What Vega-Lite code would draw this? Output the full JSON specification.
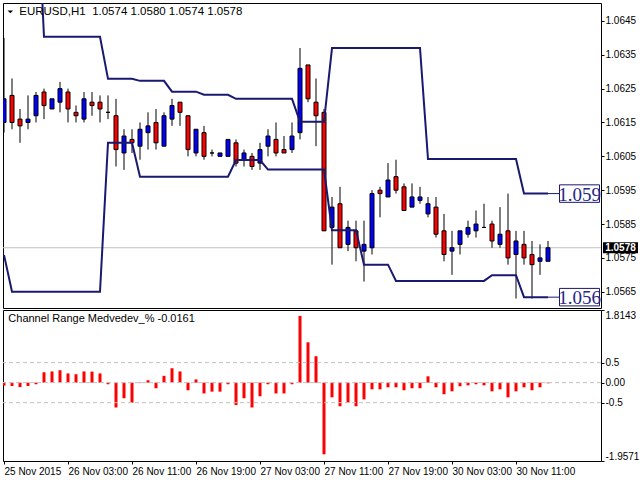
{
  "$schema": "https://vega.github.io/schema/vega-lite/v6.json",
  "background": "white",
  "padding": {"left": 2, "top": 2, "right": 0, "bottom": 0},
  "spacing": 0,
  "config": {
    "view": {"stroke": "black", "strokeWidth": 1},
    "axis": {"labelFont": "Liberation Sans", "labelFontSize": 10, "labelColor": "black", "tickColor": "black", "grid": false, "domain": false}
  },
  "datasets": {
    "bars": [
      {"i":0,"o":1.0615,"h":1.0640,"l":1.0612,"c":1.0622,"up":1.0690,"lo":1.05759,"v":-0.075},
      {"i":1,"o":1.0623,"h":1.0628,"l":1.0613,"c":1.0615,"up":1.0690,"lo":1.0565,"v":-0.083},
      {"i":2,"o":1.0616,"h":1.0619,"l":1.0609,"c":1.0614,"up":1.0690,"lo":1.0565,"v":-0.11},
      {"i":3,"o":1.0615,"h":1.0623,"l":1.0613,"c":1.0616,"up":1.0690,"lo":1.0565,"v":-0.083},
      {"i":4,"o":1.0617,"h":1.0624,"l":1.0615,"c":1.0623,"up":1.0690,"lo":1.0565,"v":-0.04},
      {"i":5,"o":1.0624,"h":1.0625,"l":1.0616,"c":1.0620,"up":1.06403,"lo":1.0565,"v":0.26},
      {"i":6,"o":1.0619,"h":1.0622,"l":1.0619,"c":1.0622,"up":1.06403,"lo":1.0565,"v":0.28},
      {"i":7,"o":1.0621,"h":1.0627,"l":1.0618,"c":1.0625,"up":1.06403,"lo":1.0565,"v":0.31},
      {"i":8,"o":1.0624,"h":1.0625,"l":1.0615,"c":1.0619,"up":1.06403,"lo":1.0565,"v":0.23},
      {"i":9,"o":1.0618,"h":1.0620,"l":1.0615,"c":1.0617,"up":1.06403,"lo":1.0565,"v":0.21},
      {"i":10,"o":1.0616,"h":1.0624,"l":1.0615,"c":1.0622,"up":1.06403,"lo":1.0565,"v":0.28},
      {"i":11,"o":1.0621,"h":1.0624,"l":1.0617,"c":1.0620,"up":1.06403,"lo":1.0565,"v":0.275},
      {"i":12,"o":1.0621,"h":1.0623,"l":1.0615,"c":1.0619,"up":1.06403,"lo":1.0565,"v":0.23},
      {"i":13,"o":1.0618,"h":1.0623,"l":1.0616,"c":1.0618,"up":1.06279,"lo":1.0609,"v":-0.04},
      {"i":14,"o":1.0617,"h":1.0622,"l":1.0602,"c":1.0607,"up":1.06279,"lo":1.0609,"v":-0.62},
      {"i":15,"o":1.0606,"h":1.0613,"l":1.0601,"c":1.0611,"up":1.06279,"lo":1.0609,"v":-0.39},
      {"i":16,"o":1.0610,"h":1.0613,"l":1.0606,"c":1.0609,"up":1.06279,"lo":1.0609,"v":-0.5},
      {"i":17,"o":1.0608,"h":1.0615,"l":1.0604,"c":1.0613,"up":1.06273,"lo":1.0599,"v":0.01},
      {"i":18,"o":1.0612,"h":1.0618,"l":1.0607,"c":1.0614,"up":1.06273,"lo":1.0599,"v":0.06},
      {"i":19,"o":1.0615,"h":1.0619,"l":1.0607,"c":1.0609,"up":1.06273,"lo":1.0599,"v":-0.14},
      {"i":20,"o":1.0608,"h":1.0618,"l":1.0608,"c":1.0617,"up":1.06273,"lo":1.0599,"v":0.17},
      {"i":21,"o":1.0616,"h":1.0622,"l":1.0614,"c":1.0620,"up":1.06241,"lo":1.0599,"v":0.36},
      {"i":22,"o":1.0621,"h":1.0621,"l":1.0614,"c":1.0618,"up":1.06241,"lo":1.0599,"v":0.28},
      {"i":23,"o":1.0617,"h":1.0617,"l":1.0605,"c":1.0607,"up":1.06241,"lo":1.0599,"v":-0.19},
      {"i":24,"o":1.0606,"h":1.0613,"l":1.0605,"c":1.0613,"up":1.06241,"lo":1.0599,"v":0.08},
      {"i":25,"o":1.0612,"h":1.0614,"l":1.0604,"c":1.0605,"up":1.06232,"lo":1.0599,"v":-0.27},
      {"i":26,"o":1.0606,"h":1.0607,"l":1.0605,"c":1.0606,"up":1.06232,"lo":1.0599,"v":-0.225},
      {"i":27,"o":1.0605,"h":1.0606,"l":1.0605,"c":1.0606,"up":1.06232,"lo":1.0599,"v":-0.225},
      {"i":28,"o":1.0605,"h":1.0610,"l":1.0605,"c":1.0610,"up":1.06232,"lo":1.0599,"v":-0.04},
      {"i":29,"o":1.0609,"h":1.0610,"l":1.0602,"c":1.0603,"up":1.0622,"lo":1.06039,"v":-0.56},
      {"i":30,"o":1.0604,"h":1.0607,"l":1.0602,"c":1.0606,"up":1.0622,"lo":1.06039,"v":-0.39},
      {"i":31,"o":1.0605,"h":1.0606,"l":1.0601,"c":1.0602,"up":1.0622,"lo":1.06039,"v":-0.62},
      {"i":32,"o":1.0603,"h":1.0609,"l":1.0601,"c":1.0607,"up":1.0622,"lo":1.06039,"v":-0.34},
      {"i":33,"o":1.0608,"h":1.0613,"l":1.0605,"c":1.0611,"up":1.0622,"lo":1.06011,"v":-0.04},
      {"i":34,"o":1.0610,"h":1.0615,"l":1.0605,"c":1.0606,"up":1.0622,"lo":1.06011,"v":-0.27},
      {"i":35,"o":1.0607,"h":1.0611,"l":1.0606,"c":1.0606,"up":1.0622,"lo":1.06011,"v":-0.27},
      {"i":36,"o":1.0607,"h":1.0615,"l":1.0606,"c":1.0611,"up":1.0622,"lo":1.06011,"v":-0.04},
      {"i":37,"o":1.0612,"h":1.0637,"l":1.0610,"c":1.0631,"up":1.06152,"lo":1.06011,"v":1.667},
      {"i":38,"o":1.0632,"h":1.0632,"l":1.0621,"c":1.0622,"up":1.06152,"lo":1.06011,"v":1.008},
      {"i":39,"o":1.0621,"h":1.0628,"l":1.0608,"c":1.0617,"up":1.06152,"lo":1.06011,"v":0.66},
      {"i":40,"o":1.0618,"h":1.0619,"l":1.0583,"c":1.0583,"up":1.06152,"lo":1.06011,"v":-1.79},
      {"i":41,"o":1.0584,"h":1.0593,"l":1.0573,"c":1.0590,"up":1.0637,"lo":1.05832,"v":-0.367},
      {"i":42,"o":1.0591,"h":1.0596,"l":1.0578,"c":1.0578,"up":1.0637,"lo":1.05832,"v":-0.59},
      {"i":43,"o":1.0579,"h":1.0586,"l":1.0577,"c":1.0584,"up":1.0637,"lo":1.05832,"v":-0.5},
      {"i":44,"o":1.0583,"h":1.0586,"l":1.0574,"c":1.0578,"up":1.0637,"lo":1.05832,"v":-0.59},
      {"i":45,"o":1.0577,"h":1.0586,"l":1.0568,"c":1.0579,"up":1.0637,"lo":1.0573,"v":-0.417},
      {"i":46,"o":1.0578,"h":1.0595,"l":1.0576,"c":1.0594,"up":1.0637,"lo":1.0573,"v":-0.167},
      {"i":47,"o":1.0595,"h":1.0596,"l":1.0587,"c":1.0594,"up":1.0637,"lo":1.0573,"v":-0.167},
      {"i":48,"o":1.0593,"h":1.0603,"l":1.0593,"c":1.0598,"up":1.0637,"lo":1.0573,"v":-0.117},
      {"i":49,"o":1.0599,"h":1.0604,"l":1.0594,"c":1.0595,"up":1.0637,"lo":1.05682,"v":-0.117},
      {"i":50,"o":1.0596,"h":1.0597,"l":1.0589,"c":1.0589,"up":1.0637,"lo":1.05682,"v":-0.19},
      {"i":51,"o":1.0590,"h":1.0597,"l":1.0590,"c":1.0593,"up":1.0637,"lo":1.05682,"v":-0.14},
      {"i":52,"o":1.0592,"h":1.0596,"l":1.0591,"c":1.0593,"up":1.0637,"lo":1.05682,"v":-0.14},
      {"i":53,"o":1.0588,"h":1.0593,"l":1.0587,"c":1.0591,"up":1.06042,"lo":1.05682,"v":0.158},
      {"i":54,"o":1.0590,"h":1.0593,"l":1.0581,"c":1.0582,"up":1.06042,"lo":1.05682,"v":-0.117},
      {"i":55,"o":1.0583,"h":1.0588,"l":1.0574,"c":1.0576,"up":1.06042,"lo":1.05682,"v":-0.29},
      {"i":56,"o":1.0577,"h":1.0583,"l":1.0570,"c":1.0578,"up":1.06042,"lo":1.05682,"v":-0.217},
      {"i":57,"o":1.0579,"h":1.0583,"l":1.0576,"c":1.0583,"up":1.06042,"lo":1.05682,"v":-0.09},
      {"i":58,"o":1.0582,"h":1.0586,"l":1.0581,"c":1.0584,"up":1.06042,"lo":1.05682,"v":-0.067},
      {"i":59,"o":1.0583,"h":1.0589,"l":1.0581,"c":1.0585,"up":1.06042,"lo":1.05682,"v":-0.04},
      {"i":60,"o":1.0584,"h":1.0591,"l":1.0584,"c":1.0584,"up":1.06042,"lo":1.05682,"v":-0.067},
      {"i":61,"o":1.0585,"h":1.0586,"l":1.0578,"c":1.0580,"up":1.06042,"lo":1.05699,"v":-0.217},
      {"i":62,"o":1.0579,"h":1.0590,"l":1.0578,"c":1.0582,"up":1.06042,"lo":1.05699,"v":-0.167},
      {"i":63,"o":1.0583,"h":1.0594,"l":1.0573,"c":1.0575,"up":1.06042,"lo":1.05699,"v":-0.367},
      {"i":64,"o":1.0576,"h":1.0583,"l":1.0563,"c":1.0580,"up":1.06042,"lo":1.05699,"v":-0.217},
      {"i":65,"o":1.0579,"h":1.0583,"l":1.0573,"c":1.0575,"up":1.0594,"lo":1.05634,"v":-0.117},
      {"i":66,"o":1.0576,"h":1.0580,"l":1.0563,"c":1.0573,"up":1.0594,"lo":1.05634,"v":-0.19},
      {"i":67,"o":1.0574,"h":1.0579,"l":1.0570,"c":1.0575,"up":1.0594,"lo":1.05634,"v":-0.117},
      {"i":68,"o":1.0574,"h":1.0580,"l":1.0574,"c":1.0578,"up":1.0594,"lo":1.05634,"v":-0.0161}
    ],
    "chan": [
      {"p": 1.0594, "t": "1.059"},
      {"p": 1.05634, "t": "1.056"}
    ],
    "levels": [{"lvl": 0.5}, {"lvl": 0}, {"lvl": -0.5}],
    "one": [{}]
  },
  "vconcat": [
    {
      "width": 598,
      "height": 305,
      "layer": [
        {
          "data": {"name": "one"},
          "mark": {"type": "rule", "color": "#c0c0c0", "strokeWidth": 1},
          "encoding": {
            "y": {"datum": 1.0578, "type": "quantitative", "scale": {"domain": [1.05602, 1.06503], "nice": false, "zero": false, "padding": 0},
                  "axis": {"orient": "right", "title": null, "values": [1.0565, 1.0575, 1.0585, 1.0595, 1.0605, 1.0615, 1.0625, 1.0635, 1.0645], "format": ".4f", "tickSize": 3, "labelPadding": 1}}
          }
        },
        {
          "data": {"name": "bars"},
          "mark": {"type": "rule", "color": "black", "strokeWidth": 1, "clip": true},
          "encoding": {
            "x": {"field": "i", "type": "quantitative", "scale": {"domain": [-0.125, 74.625], "nice": false, "zero": false, "padding": 0}, "axis": null},
            "y": {"field": "l", "type": "quantitative", "scale": {"domain": [1.05602, 1.06503], "nice": false, "zero": false, "padding": 0},
                  "axis": {"orient": "right", "title": null, "values": [1.0565, 1.0575, 1.0585, 1.0595, 1.0605, 1.0615, 1.0625, 1.0635, 1.0645], "format": ".4f", "tickSize": 3, "labelPadding": 1}},
            "y2": {"field": "h"}
          }
        },
        {
          "data": {"name": "bars"},
          "mark": {"type": "bar", "size": 4, "stroke": "black", "strokeWidth": 1, "clip": true, "orient": "vertical"},
          "encoding": {
            "x": {"field": "i", "type": "quantitative", "scale": {"domain": [-0.125, 74.625], "nice": false, "zero": false, "padding": 0}, "axis": null},
            "y": {"field": "o", "type": "quantitative", "scale": {"domain": [1.05602, 1.06503], "nice": false, "zero": false, "padding": 0},
                  "axis": {"orient": "right", "title": null, "values": [1.0565, 1.0575, 1.0585, 1.0595, 1.0605, 1.0615, 1.0625, 1.0635, 1.0645], "format": ".4f", "tickSize": 3, "labelPadding": 1}},
            "y2": {"field": "c"},
            "fill": {"condition": {"test": "datum.c >= datum.o", "value": "#0000ff"}, "value": "#ff0000"}
          }
        },
        {
          "data": {"name": "bars"},
          "mark": {"type": "line", "color": "#191970", "strokeWidth": 2, "clip": true},
          "encoding": {
            "x": {"field": "i", "type": "quantitative", "scale": {"domain": [-0.125, 74.625], "nice": false, "zero": false, "padding": 0}, "axis": null},
            "y": {"field": "up", "type": "quantitative", "scale": {"domain": [1.05602, 1.06503], "nice": false, "zero": false, "padding": 0},
                  "axis": {"orient": "right", "title": null, "values": [1.0565, 1.0575, 1.0585, 1.0595, 1.0605, 1.0615, 1.0625, 1.0635, 1.0645], "format": ".4f", "tickSize": 3, "labelPadding": 1}}
          }
        },
        {
          "data": {"name": "bars"},
          "mark": {"type": "line", "color": "#191970", "strokeWidth": 2, "clip": true},
          "encoding": {
            "x": {"field": "i", "type": "quantitative", "scale": {"domain": [-0.125, 74.625], "nice": false, "zero": false, "padding": 0}, "axis": null},
            "y": {"field": "lo", "type": "quantitative", "scale": {"domain": [1.05602, 1.06503], "nice": false, "zero": false, "padding": 0},
                  "axis": {"orient": "right", "title": null, "values": [1.0565, 1.0575, 1.0585, 1.0595, 1.0605, 1.0615, 1.0625, 1.0635, 1.0645], "format": ".4f", "tickSize": 3, "labelPadding": 1}}
          }
        },
        {
          "data": {"name": "chan"},
          "mark": {"type": "rule", "color": "#191970", "strokeWidth": 1},
          "encoding": {
            "x": {"datum": 68, "type": "quantitative", "scale": {"domain": [-0.125, 74.625], "nice": false, "zero": false, "padding": 0}, "axis": null},
            "x2": {"datum": 69.45},
            "y": {"field": "p", "type": "quantitative", "scale": {"domain": [1.05602, 1.06503], "nice": false, "zero": false, "padding": 0},
                  "axis": {"orient": "right", "title": null, "values": [1.0565, 1.0575, 1.0585, 1.0595, 1.0605, 1.0615, 1.0625, 1.0635, 1.0645], "format": ".4f", "tickSize": 3, "labelPadding": 1}}
          }
        },
        {
          "data": {"name": "chan"},
          "mark": {"type": "point", "shape": "M-1,-0.4375L1,-0.4375L1,0.4375L-1,0.4375Z", "size": 1600, "filled": true, "fill": "white", "stroke": "#191970", "strokeWidth": 1, "opacity": 1},
          "encoding": {
            "x": {"datum": 71.94, "type": "quantitative", "scale": {"domain": [-0.125, 74.625], "nice": false, "zero": false, "padding": 0}, "axis": null},
            "y": {"field": "p", "type": "quantitative", "scale": {"domain": [1.05602, 1.06503], "nice": false, "zero": false, "padding": 0},
                  "axis": {"orient": "right", "title": null, "values": [1.0565, 1.0575, 1.0585, 1.0595, 1.0605, 1.0615, 1.0625, 1.0635, 1.0645], "format": ".4f", "tickSize": 3, "labelPadding": 1}}
          }
        },
        {
          "data": {"name": "chan"},
          "mark": {"type": "text", "font": "Liberation Serif", "fontSize": 19, "color": "#27278a", "align": "center", "baseline": "middle", "dy": 1},
          "encoding": {
            "x": {"datum": 71.94, "type": "quantitative", "scale": {"domain": [-0.125, 74.625], "nice": false, "zero": false, "padding": 0}, "axis": null},
            "y": {"field": "p", "type": "quantitative", "scale": {"domain": [1.05602, 1.06503], "nice": false, "zero": false, "padding": 0},
                  "axis": {"orient": "right", "title": null, "values": [1.0565, 1.0575, 1.0585, 1.0595, 1.0605, 1.0615, 1.0625, 1.0635, 1.0645], "format": ".4f", "tickSize": 3, "labelPadding": 1}},
            "text": {"field": "t"}
          }
        },
        {
          "data": {"name": "one"},
          "mark": {"type": "point", "shape": "M-1,-0.314L1,-0.314L1,0.314L-1,0.314Z", "size": 1225, "filled": true, "fill": "black", "opacity": 1},
          "encoding": {
            "x": {"datum": 77.06, "type": "quantitative", "scale": {"domain": [-0.125, 74.625], "nice": false, "zero": false, "padding": 0}, "axis": null},
            "y": {"datum": 1.0578, "type": "quantitative", "scale": {"domain": [1.05602, 1.06503], "nice": false, "zero": false, "padding": 0},
                  "axis": {"orient": "right", "title": null, "values": [1.0565, 1.0575, 1.0585, 1.0595, 1.0605, 1.0615, 1.0625, 1.0635, 1.0645], "format": ".4f", "tickSize": 3, "labelPadding": 1}}
          }
        },
        {
          "data": {"name": "one"},
          "mark": {"type": "text", "font": "Liberation Sans", "fontSize": 10, "fontWeight": "bold", "color": "white", "align": "center", "baseline": "middle"},
          "encoding": {
            "x": {"datum": 77.06, "type": "quantitative", "scale": {"domain": [-0.125, 74.625], "nice": false, "zero": false, "padding": 0}, "axis": null},
            "y": {"datum": 1.0578, "type": "quantitative", "scale": {"domain": [1.05602, 1.06503], "nice": false, "zero": false, "padding": 0},
                  "axis": {"orient": "right", "title": null, "values": [1.0565, 1.0575, 1.0585, 1.0595, 1.0605, 1.0615, 1.0625, 1.0635, 1.0645], "format": ".4f", "tickSize": 3, "labelPadding": 1}},
            "text": {"value": "1.0578"}
          }
        },
        {
          "data": {"name": "one"},
          "mark": {"type": "point", "shape": "M-1,-0.5L1,-0.5L0,0.5Z", "size": 30, "filled": true, "fill": "black", "opacity": 1},
          "encoding": {
            "x": {"datum": 0.79, "type": "quantitative", "scale": {"domain": [-0.125, 74.625], "nice": false, "zero": false, "padding": 0}, "axis": null},
            "y": {"datum": 1.06477, "type": "quantitative", "scale": {"domain": [1.05602, 1.06503], "nice": false, "zero": false, "padding": 0},
                  "axis": {"orient": "right", "title": null, "values": [1.0565, 1.0575, 1.0585, 1.0595, 1.0605, 1.0615, 1.0625, 1.0635, 1.0645], "format": ".4f", "tickSize": 3, "labelPadding": 1}}
          }
        },
        {
          "data": {"name": "one"},
          "mark": {"type": "text", "font": "Arial", "fontSize": 11.5, "color": "black", "align": "left", "baseline": "middle"},
          "encoding": {
            "x": {"datum": 1.91, "type": "quantitative", "scale": {"domain": [-0.125, 74.625], "nice": false, "zero": false, "padding": 0}, "axis": null},
            "y": {"datum": 1.06477, "type": "quantitative", "scale": {"domain": [1.05602, 1.06503], "nice": false, "zero": false, "padding": 0},
                  "axis": {"orient": "right", "title": null, "values": [1.0565, 1.0575, 1.0585, 1.0595, 1.0605, 1.0615, 1.0625, 1.0635, 1.0645], "format": ".4f", "tickSize": 3, "labelPadding": 1}},
            "text": {"value": "EURUSD,H1\u00a0 1.0574 1.0580 1.0574 1.0578"}
          }
        }
      ]
    },
    {
      "width": 598,
      "height": 151,
      "layer": [
        {
          "data": {"name": "bars"},
          "mark": {"type": "bar", "size": 3, "color": "#ff0000", "clip": true, "orient": "vertical"},
          "encoding": {
            "x": {"field": "i", "type": "quantitative", "scale": {"domain": [-0.125, 74.625], "nice": false, "zero": false, "padding": 0},
                  "axis": {"orient": "bottom", "title": null, "values": [0, 8, 16, 24, 32, 40, 48, 56, 64], "labelAlign": "left", "tickSize": 3, "labelPadding": 2,
                           "labelExpr": "['25 Nov 2015','26 Nov 03:00','26 Nov 11:00','26 Nov 19:00','27 Nov 03:00','27 Nov 11:00','27 Nov 19:00','30 Nov 03:00','30 Nov 11:00'][round(datum.value / 8)]"}},
            "y": {"field": "v", "type": "quantitative", "scale": {"domain": [-1.9571, 1.8143], "nice": false, "zero": false, "padding": 0},
                  "axis": {"orient": "right", "title": null, "values": [-1.9571, -0.5, 0, 0.5, 1.8143], "tickSize": 3, "labelPadding": 1, "labelFlush": true,
                           "labelExpr": "datum.value == 0 ? '0.00' : datum.value == 0.5 ? '0.5' : datum.value == -0.5 ? '-0.5' : datum.value > 1 ? '1.8143' : '-1.9571'"}},
            "y2": {"datum": 0}
          }
        },
        {
          "data": {"name": "levels"},
          "mark": {"type": "rule", "color": "#c0c0c0", "strokeWidth": 1, "strokeDash": [4, 3]},
          "encoding": {
            "y": {"field": "lvl", "type": "quantitative", "scale": {"domain": [-1.9571, 1.8143], "nice": false, "zero": false, "padding": 0},
                  "axis": {"orient": "right", "title": null, "values": [-1.9571, -0.5, 0, 0.5, 1.8143], "tickSize": 3, "labelPadding": 1, "labelFlush": true,
                           "labelExpr": "datum.value == 0 ? '0.00' : datum.value == 0.5 ? '0.5' : datum.value == -0.5 ? '-0.5' : datum.value > 1 ? '1.8143' : '-1.9571'"}}
          }
        },
        {
          "data": {"name": "one"},
          "mark": {"type": "text", "font": "Arial", "fontSize": 11, "color": "black", "align": "left", "baseline": "middle"},
          "encoding": {
            "x": {"datum": 0.54, "type": "quantitative", "scale": {"domain": [-0.125, 74.625], "nice": false, "zero": false, "padding": 0},
                  "axis": {"orient": "bottom", "title": null, "values": [0, 8, 16, 24, 32, 40, 48, 56, 64], "labelAlign": "left", "tickSize": 3, "labelPadding": 2,
                           "labelExpr": "['25 Nov 2015','26 Nov 03:00','26 Nov 11:00','26 Nov 19:00','27 Nov 03:00','27 Nov 11:00','27 Nov 19:00','30 Nov 03:00','30 Nov 11:00'][round(datum.value / 8)]"}},
            "y": {"datum": 1.59, "type": "quantitative", "scale": {"domain": [-1.9571, 1.8143], "nice": false, "zero": false, "padding": 0},
                  "axis": {"orient": "right", "title": null, "values": [-1.9571, -0.5, 0, 0.5, 1.8143], "tickSize": 3, "labelPadding": 1, "labelFlush": true,
                           "labelExpr": "datum.value == 0 ? '0.00' : datum.value == 0.5 ? '0.5' : datum.value == -0.5 ? '-0.5' : datum.value > 1 ? '1.8143' : '-1.9571'"}},
            "text": {"value": "Channel Range Medvedev_% -0.0161"}
          }
        }
      ]
    }
  ]
}
